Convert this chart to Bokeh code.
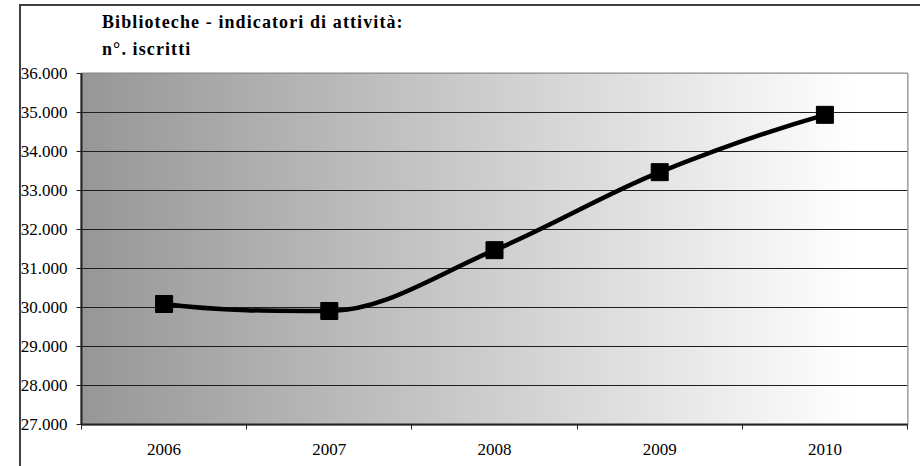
import numpy as np
from bokeh.plotting import figure
from bokeh.layouts import column
from bokeh.models import Range1d, FixedTicker, Div, InlineStyleSheet
from bokeh.embed import file_html
from bokeh.resources import INLINE

# ---- data ----
years = ["2006", "2007", "2008", "2009", "2010"]
iscritti = [30090, 29910, 31470, 33470, 34940]
y_ticks = [27000, 28000, 29000, 30000, 31000, 32000, 33000, 34000, 35000, 36000]
y_tick_labels = ["27.000", "28.000", "29.000", "30.000", "31.000",
                 "32.000", "33.000", "34.000", "35.000", "36.000"]
title_lines = ["Biblioteche - indicatori di attività:", "n°. iscritti"]

FONT = "Liberation Serif"
W, H = 920, 466
TITLE_H = 63
PH = H - TITLE_H

xs = list(range(len(years)))
p = figure(width=W, height=PH, output_backend="svg", toolbar_location=None,
           x_range=Range1d(-0.5, len(years) - 0.5),
           y_range=Range1d(y_ticks[0], y_ticks[-1]),
           min_border_left=81, min_border_right=13,
           min_border_top=10, min_border_bottom=42, margin=(0, 0, 0, 0))
p.background_fill_color = "white"
p.border_fill_color = "white"
p.outline_line_color = "#8a8a8a"
p.outline_line_width = 2

# gradient background (dark gray on the left to white near the right)
N = 600
t = np.linspace(0, 1, N)
g = np.clip(151 + (255 - 151) * np.minimum(t / 0.937, 1.0), 0, 255).astype(np.uint32)
img = (255 << 24) | (g << 16) | (g << 8) | g
img = img.reshape(1, N).astype(np.uint32)
r_img = p.image_rgba(image=[img], x=-0.5, y=y_ticks[0], dw=len(years), dh=y_ticks[-1] - y_ticks[0])
r_img.level = "image"

# grid
p.xgrid.visible = False
p.ygrid.ticker = FixedTicker(ticks=y_ticks[1:-1])
p.ygrid.grid_line_color = "#1e1e1e"
p.ygrid.grid_line_width = 1

# y axis
ya = p.yaxis[0]
ya.ticker = FixedTicker(ticks=y_ticks, minor_ticks=[])
ya.major_label_overrides = {v: s for v, s in zip(y_ticks, y_tick_labels)}
ya.major_label_text_font = FONT
ya.major_label_text_font_size = "17px"
ya.major_label_text_color = "black"
ya.major_tick_out = 5
ya.major_tick_in = 0
ya.minor_tick_out = 0
ya.minor_tick_in = 0
ya.major_label_standoff = 9
ya.axis_line_color = "#222222"
ya.axis_line_width = 2
ya.major_tick_line_color = "#222222"

# x axis: labels in category centres, ticks at boundaries
xa = p.xaxis[0]
xa.ticker = FixedTicker(ticks=xs, minor_ticks=[i - 0.5 for i in range(len(years) + 1)])
xa.major_label_overrides = {i: y for i, y in zip(xs, years)}
xa.major_label_text_font = FONT
xa.major_label_text_font_size = "17px"
xa.major_label_text_color = "black"
xa.major_tick_out = 0
xa.major_tick_in = 0
xa.minor_tick_out = 5
xa.minor_tick_in = 0
xa.minor_tick_line_color = "#222222"
xa.major_label_standoff = 14
xa.axis_line_color = "#222222"
xa.axis_line_width = 2

# smoothed line (monotone cubic -> bezier segments)
y = np.array(iscritti, dtype=float)
d = np.diff(y)
n = len(y)
m = np.zeros(n)
for k in range(1, n - 1):
    if d[k - 1] * d[k] > 0:
        m[k] = 2 * d[k - 1] * d[k] / (d[k - 1] + d[k])
def end_slope(d0, d1):
    s = (3 * d0 - d1) / 2
    if np.sign(s) != np.sign(d0):
        return 0.0
    if np.sign(d0) != np.sign(d1) and abs(s) > abs(3 * d0):
        return 3 * d0
    return s
m[0] = end_slope(d[0], d[1])
m[-1] = end_slope(d[-1], d[-2])
x0 = xs[:-1]; x1 = xs[1:]
y0 = y[:-1]; y1 = y[1:]
cx0 = [a + 1 / 3 for a in x0]
cy0 = y0 + m[:-1] / 3
cx1 = [b - 1 / 3 for b in x1]
cy1 = y1 - m[1:] / 3
p.bezier(x0=x0, y0=y0, x1=x1, y1=y1, cx0=cx0, cy0=cy0, cx1=cx1, cy1=cy1,
         line_color="black", line_width=4.5)
p.scatter(xs, iscritti, marker="square", size=17, color="black")

# title block
title_html = (
    "<div style=\"margin:0;padding:9px 0 0 102px;font-family:'Liberation Serif',serif;"
    "font-weight:bold;font-size:18px;letter-spacing:1.1px;line-height:27px;color:black;"
    "white-space:nowrap;\">"
    + title_lines[0] + "<br>" + title_lines[1] + "</div>"
)
title_div = Div(text=title_html, width=W, height=TITLE_H, margin=(0, 0, 0, 0))

border_css = InlineStyleSheet(css="""
:host { position: relative; overflow: hidden; }
:host::after {
  content: ""; position: absolute; left: 19px; top: 4px;
  width: 2000px; height: 2000px;
  border-left: 2px solid #404040; border-top: 2px solid #404040;
  pointer-events: none; z-index: 100;
}
""")

layout = column(title_div, p, spacing=0, width=W, height=H, margin=(0, 0, 0, 0),
                stylesheets=[border_css])

open("out.html", "w").write(file_html(layout, INLINE))
